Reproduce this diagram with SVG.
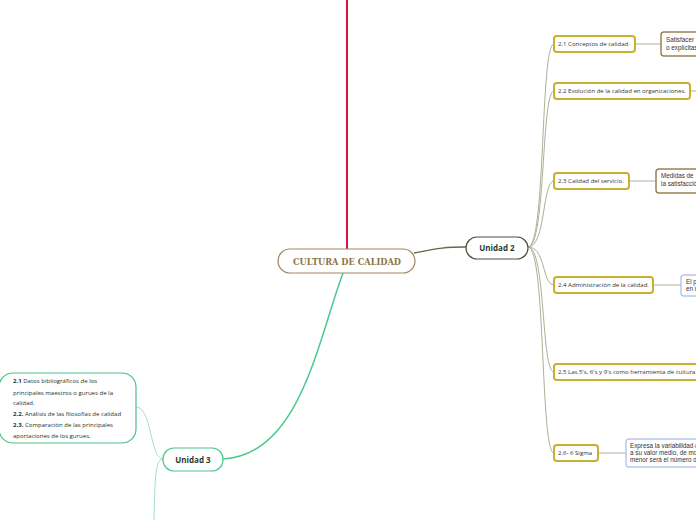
<svg xmlns="http://www.w3.org/2000/svg" width="696" height="520" viewBox="0 0 696 520">
<style>
.bg{fill:#ffffff}
.sub{fill:#fff;stroke:#c8b12e;stroke-width:2}
.st{font-family:"Open Sans","DejaVu Sans",sans-serif;font-size:6.05px;fill:#333}
.gbr{fill:#fff;stroke:#9c8156;stroke-width:1.5}
.gbl{fill:#fff;stroke:#b9c6ee;stroke-width:1.5}
.gt{font-family:"Liberation Sans",Arial,sans-serif;font-size:6.3px;fill:#333}
.u{font-family:"Open Sans","DejaVu Sans",sans-serif;font-size:8px;font-weight:bold;fill:#1f3d33}
.c2{fill:none;stroke:#b0ae98;stroke-width:1}
.ct{font-family:"Open Sans","DejaVu Sans",sans-serif;font-size:6.05px;fill:#1e3328}
</style>
<rect class="bg" x="0" y="0" width="696" height="520"/>
<g id="connectors">
<line x1="347" y1="0" x2="347" y2="249" stroke="#d3163f" stroke-width="2"/>
<path d="M414 253 C440 248,445 247,466 247" fill="none" stroke="#65674f" stroke-width="1.3"/>
<path d="M343 273 C318 340,300 455,223 459" fill="none" stroke="#4cc88e" stroke-width="1.5"/>
<path class="c2" d="M528 247 C546 247,540 44,554 44"/>
<path class="c2" d="M528 247 C546 247,541 91,554 91"/>
<path class="c2" d="M528 247 C546 247,542 181,554 181"/>
<path class="c2" d="M528 247 C546 247,542 285,554 285"/>
<path class="c2" d="M528 247 C546 247,541 372,554 372"/>
<path class="c2" d="M528 247 C546 247,540 453,554 453"/>
<line class="c2" x1="635" y1="44" x2="661" y2="44"/>
<line class="c2" x1="690" y1="91" x2="696" y2="91"/>
<line class="c2" x1="629" y1="181" x2="656" y2="181"/>
<line class="c2" x1="653" y1="285" x2="681" y2="285"/>
<line class="c2" x1="598" y1="453" x2="626" y2="453"/>
<path d="M163 459 C150 459,152 407,136 407" fill="none" stroke="#a6e0c4" stroke-width="1"/>
<path d="M163 459 C155 459,155 480,154 520" fill="none" stroke="#a6e0c4" stroke-width="1"/>
</g>
<g id="central">
<rect x="278" y="249" width="137" height="24" rx="12" fill="#fff" stroke="#a08a5c" stroke-width="1.2"/>
<text x="347" y="265" text-anchor="middle" font-family="'DejaVu Serif','Liberation Serif',serif" font-weight="bold" font-size="9.5" fill="#8c7445" textLength="108" lengthAdjust="spacingAndGlyphs">CULTURA DE CALIDAD</text>
</g>
<g id="unidad2">
<rect x="466" y="237" width="62" height="22" rx="11" fill="#fff" stroke="#4e523c" stroke-width="1.2"/>
<text class="u" x="497" y="251" text-anchor="middle">Unidad 2</text>
</g>
<g id="n21">
<rect class="sub" x="554" y="36" width="81" height="16" rx="3"/>
<text class="st" x="558" y="46.3">2.1 Conceptos de calidad.</text>
</g>
<g id="n22">
<rect class="sub" x="554" y="83" width="136" height="16" rx="3"/>
<text class="st" x="558" y="93.3">2.2 Evolución de la calidad en organizaciones.</text>
</g>
<g id="n23">
<rect class="sub" x="554" y="173" width="75" height="16" rx="3"/>
<text class="st" x="558" y="183.3">2.3 Calidad del servicio.</text>
</g>
<g id="n24">
<rect class="sub" x="554" y="277" width="99" height="16" rx="3"/>
<text class="st" x="558" y="287.3">2.4 Administración de la calidad.</text>
</g>
<g id="n25">
<rect class="sub" x="554" y="364" width="170" height="16" rx="3"/>
<text class="st" x="558" y="374.3">2.5 Las 5's, 6's y 9's como herramienta de cultura</text>
</g>
<g id="n26">
<rect class="sub" x="554" y="445" width="44" height="16" rx="3"/>
<text class="st" x="558" y="455.3">2.6- 6 Sigma</text>
</g>
<g id="g21">
<rect class="gbr" x="661" y="32" width="60" height="24" rx="3"/>
<text class="gt" x="666" y="42">Satisfacer</text>
<text class="gt" x="666" y="50">o explícitas</text>
</g>
<g id="g23">
<rect class="gbr" x="656" y="169" width="60" height="24" rx="3"/>
<text class="gt" x="661" y="178">Medidas de</text>
<text class="gt" x="661" y="186">la satisfacció</text>
</g>
<g id="g24">
<rect class="gbl" x="681" y="275" width="40" height="21" rx="3"/>
<text class="gt" x="686" y="284">El p</text>
<text class="gt" x="686" y="291">en u</text>
</g>
<g id="g26">
<rect class="gbl" x="626" y="439" width="100" height="28" rx="3"/>
<text class="gt" x="630" y="448">Expresa la variabilidad d</text>
<text class="gt" x="630" y="455">a su valor medio, de moc</text>
<text class="gt" x="630" y="462">menor será el número de</text>
</g>
<g id="unidad3">
<rect x="163" y="448" width="60" height="23" rx="11" fill="#fff" stroke="#4cc88e" stroke-width="1.2"/>
<text class="u" x="193" y="462.5" text-anchor="middle">Unidad 3</text>
</g>
<g id="u3children">
<rect x="-1" y="373" width="137" height="70" rx="14" fill="#fff" stroke="#4cc08a" stroke-width="1.2"/>
<text class="ct" x="13" y="383"><tspan font-weight="bold">2.1</tspan> Datos bibliográficos de los</text>
<text class="ct" x="13" y="394.5">principales maestros o gurues de la</text>
<text class="ct" x="13" y="405">calidad.</text>
<text class="ct" x="13" y="415.5"><tspan font-weight="bold">2.2.</tspan> Análisis de las filosofías de calidad</text>
<text class="ct" x="13" y="426.5"><tspan font-weight="bold">2.3.</tspan> Comparación de las principales</text>
<text class="ct" x="13" y="438">aportaciones de los gurues.</text>
</g>
</svg>
